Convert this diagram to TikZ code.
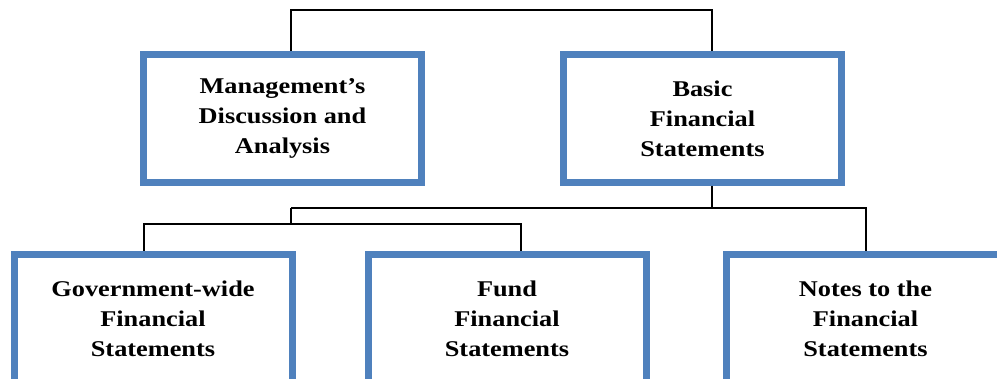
\documentclass[tikz,border=0pt]{standalone}
\usepackage{fontspec}
\setmainfont[FakeStretch=1.17]{Liberation Serif}
\definecolor{boxblue}{RGB}{79,129,189}
\begin{document}
\begin{tikzpicture}[x=1pt,y=1pt,
  box/.style={draw=boxblue,line width=7pt,fill=white,minimum width=278pt,minimum height=128pt,inner sep=0pt,align=center,font=\fontsize{22.5}{30}\selectfont\bfseries},
  conn/.style={draw=black,line width=1.8pt}]
\useasboundingbox (0,0) rectangle (997,-379);
\clip (0,0) rectangle (997,-379);
\node[box] (m) at (282.5,-118.5) {Management’s\\Discussion and\\Analysis};
\node[box] (b) at (702.5,-118.5) {Basic\\Financial\\Statements};
\node[box] (g) at (153,-318.5) {Government-wide\\Financial\\Statements};
\node[box] (f) at (507,-318.5) {Fund\\Financial\\Statements};
\node[box] (n) at (865.5,-318.5) {Notes to the\\Financial\\Statements};
\coordinate (topbar) at (500,-10);
\coordinate (bar2L) at (291,-208);
\coordinate (bar3) at (291,-224);
\draw[conn] ([xshift=8.5pt]m.north) |- (topbar) -| ([xshift=9.5pt]b.north);
\draw[conn] ([xshift=9.5pt]b.south) |- (bar2L);
\draw[conn] (bar2L) -| ([xshift=0.5pt]n.north);
\draw[conn] (bar2L) -- (bar3);
\draw[conn] ([xshift=-9pt]g.north) |- (bar3) -| ([xshift=14pt]f.north);
\end{tikzpicture}
\end{document}
